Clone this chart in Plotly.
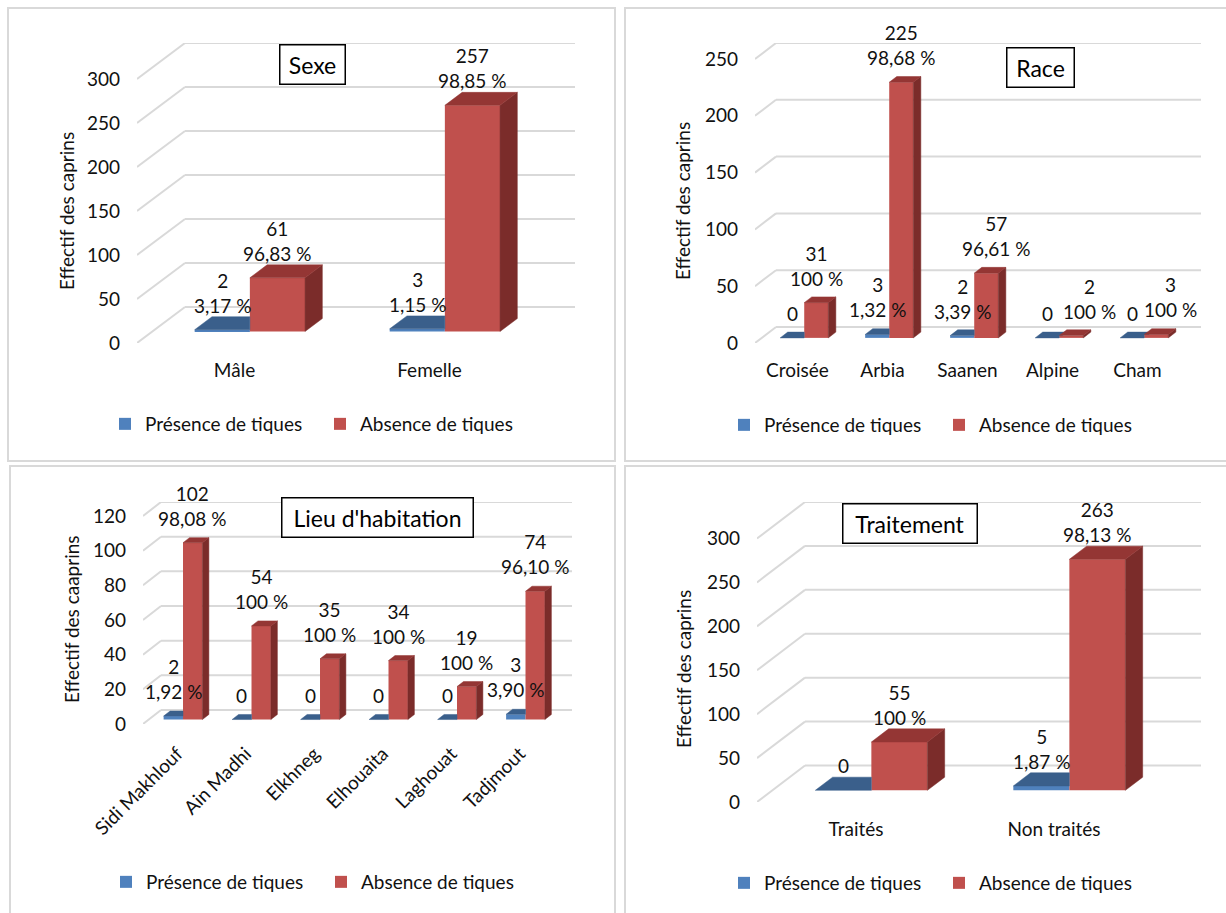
import plotly.graph_objects as go

W, H = 1226, 913
FONT = "Lato"
TXT = "#111111"
RED, RED_TOP, RED_SIDE = "#C0504D", "#943634", "#7B2C2A"
BLUE, BLUE_TOP = "#4F81BD", "#3A5F8B"
GRID = "#D9D9D9"

# ---------------- data ----------------
series_names = ["Présence de tiques", "Absence de tiques"]

sexe_categories = ["Mâle", "Femelle"]
sexe_presence = [2, 3]
sexe_absence = [61, 257]
sexe_presence_pct = ["3,17 %", "1,15 %"]
sexe_absence_pct = ["96,83 %", "98,85 %"]

race_categories = ["Croisée", "Arbia", "Saanen", "Alpine", "Cham"]
race_presence = [0, 3, 2, 0, 0]
race_absence = [31, 225, 57, 2, 3]
race_presence_pct = ["", "1,32 %", "3,39 %", "", ""]
race_absence_pct = ["100 %", "98,68 %", "96,61 %", "100 %", "100 %"]

lieu_categories = ["Sidi Makhlouf", "Ain Madhi", "Elkhneg", "Elhouaita", "Laghouat", "Tadjmout"]
lieu_presence = [2, 0, 0, 0, 0, 3]
lieu_absence = [102, 54, 35, 34, 19, 74]
lieu_presence_pct = ["1,92 %", "", "", "", "", "3,90 %"]
lieu_absence_pct = ["98,08 %", "100 %", "100 %", "100 %", "100 %", "96,10 %"]

trait_categories = ["Traités", "Non traités"]
trait_presence = [0, 5]
trait_absence = [55, 263]
trait_presence_pct = ["", "1,87 %"]
trait_absence_pct = ["100 %", "98,13 %"]

y_max = [300, 250, 120, 300]
y_step = [50, 50, 20, 50]
panel_titles = ["Sexe", "Race", "Lieu d'habitation", "Traitement"]
y_titles = ["Effectif des caprins", "Effectif des caprins", "Effectif des caaprins", "Effectif des caprins"]

# ---------------- layout geometry (pixels) ----------------
panels = [
    dict(cats=sexe_categories, pres=sexe_presence, absn=sexe_absence, ppct=sexe_presence_pct, apct=sexe_absence_pct,
         front=(137, 527), depth=(48, 36), y0=343, ytop=43, frame=(8, 8, 615, 461), box=(280, 45, 346, 85),
         ytitle=(66, 211), legend=(105, 424), angle=0, red_lbl_shift=None),
    dict(cats=race_categories, pres=race_presence, absn=race_absence, ppct=race_presence_pct, apct=race_absence_pct,
         front=(755, 1180), depth=(21, 16), y0=343, ytop=43, frame=(625, 8, 1240, 461), box=(1006, 48, 1074, 88),
         ytitle=(682, 201), legend=(724, 425), angle=0, red_lbl_shift=[0, 0, 10, 18, 14]),
    dict(cats=lieu_categories, pres=lieu_presence, absn=lieu_absence, ppct=lieu_presence_pct, apct=lieu_absence_pct,
         front=(143, 554), depth=(18, 14), y0=724, ytop=502, frame=(10, 466, 615, 930), box=(282, 497, 474, 537),
         ytitle=(71, 619), legend=(106, 882), angle=-45, red_lbl_shift=None),
    dict(cats=trait_categories, pres=trait_presence, absn=trait_absence, ppct=trait_presence_pct, apct=trait_absence_pct,
         front=(757, 1153), depth=(48, 36.5), y0=802, ytop=502, frame=(625, 466, 1240, 930), box=(842, 503, 977, 543),
         ytitle=(683, 669), legend=(724, 883), angle=0, red_lbl_shift=None),
]

BW = 0.283   # bar width (category units)
D0 = 0.32    # depth of bar front face (fraction of floor depth)
DD = 0.36    # bar depth (fraction of floor depth)

fig = go.Figure()
shapes, annotations = [], []
layout = dict(width=W, height=H, margin=dict(l=0, r=0, t=0, b=0, autoexpand=False), paper_bgcolor="white",
              plot_bgcolor="rgba(0,0,0,0)", barmode="overlay", showlegend=True, hovermode=False)


def poly_trace(polys, color, xa, ya):
    xs, ys = [], []
    for p in polys:
        for (px, py) in p:
            xs.append(px)
            ys.append(py)
        xs.append(p[0][0]); ys.append(p[0][1])
        xs.append(None); ys.append(None)
    return go.Scatter(x=xs, y=ys, mode="lines", fill="toself", fillcolor=color,
                      line=dict(color=color, width=0.5), showlegend=False, xaxis=xa, yaxis=ya,
                      hoverinfo="skip")


for k, p in enumerate(panels):
    idx = k + 1
    xa = "x" if idx == 1 else f"x{idx}"
    ya = "y" if idx == 1 else f"y{idx}"
    xkey = "xaxis" if idx == 1 else f"xaxis{idx}"
    ykey = "yaxis" if idx == 1 else f"yaxis{idx}"
    lkey = "legend" if idx == 1 else f"legend{idx}"
    n = len(p["cats"])
    fl, fr = p["front"]
    ddx, ddy = p["depth"]
    ymax, step = y_max[k], y_step[k]
    catw = (fr - fl) / n
    ppu = (p["y0"] - p["ytop"] - ddy) / ymax
    DX = ddx / catw
    DY = ddy / ppu
    xs_idx = list(range(n))

    layout[xkey] = dict(domain=[fl / W, (fr + ddx) / W], range=[-0.5, n - 0.5 + DX], anchor=ya,
                        showgrid=False, zeroline=False, showline=False, ticks="", automargin=False,
                        tickvals=xs_idx, ticktext=p["cats"], tickangle=p["angle"],
                        tickfont=dict(family=FONT, size=19, color=TXT), ticklabelstandoff=14, fixedrange=True)
    layout[ykey] = dict(domain=[1 - p["y0"] / H, 1 - p["ytop"] / H], range=[0, ymax + DY], anchor=xa,
                        showgrid=False, zeroline=False, showline=False, ticks="", automargin=False,
                        tickmode="linear", tick0=0, dtick=step,
                        tickfont=dict(family=FONT, size=19, color=TXT), ticklabelstandoff=16, fixedrange=True)

    # back wall gridlines with perspective diagonals
    v = 0
    while v <= ymax:
        shapes.append(dict(type="line", xref=xa, yref=ya, x0=-0.5, y0=v, x1=-0.5 + DX, y1=v + DY,
                           line=dict(color=GRID, width=2), layer="below"))
        shapes.append(dict(type="line", xref=xa, yref=ya, x0=-0.5 + DX, y0=v + DY, x1=n - 0.5 + DX, y1=v + DY,
                           line=dict(color=GRID, width=2), layer="below"))
        v += step

    base = D0 * DY
    off_b = -BW + D0 * DX
    off_r = D0 * DX
    ex, ey = DD * DX, DD * DY

    fig.add_trace(go.Bar(x=xs_idx, y=p["pres"], base=base, offset=off_b, width=BW, name=series_names[0],
                         marker=dict(color=BLUE, line=dict(width=0)), xaxis=xa, yaxis=ya, legend=lkey))
    fig.add_trace(go.Bar(x=xs_idx, y=p["absn"], base=base, offset=off_r, width=BW, name=series_names[1],
                         marker=dict(color=RED, line=dict(width=0)), xaxis=xa, yaxis=ya, legend=lkey))

    blue_tops, red_tops, red_sides = [], [], []
    for i in xs_idx:
        x0 = i + off_b
        x1 = x0 + BW
        t = base + p["pres"][i]
        rt = base + p["absn"][i]
        A, B, C, D = (x0, t), (x1, t), (x1 + ex, t + ey), (x0 + ex, t + ey)
        if rt >= t + ey:
            blue_tops.append([A, B, (x1, t + ey), D])
        elif rt <= t:
            blue_tops.append([A, B, C, D])
        else:
            blue_tops.append([A, B, (x1, rt), (x1 + ex * (rt - t) / ey, rt), C, D])
        r0 = i + off_r
        r1 = r0 + BW
        red_tops.append([(r0, rt), (r1, rt), (r1 + ex, rt + ey), (r0 + ex, rt + ey)])
        red_sides.append([(r1, base), (r1, rt), (r1 + ex, rt + ey), (r1 + ex, base + ey)])

        pv = p["pres"][i]
        ptxt = f"{pv}<br>{p['ppct'][i]}" if p["ppct"][i] else f"{pv}"
        annotations.append(dict(xref=xa, yref=ya, x=x0 + BW / 2, y=t, text=ptxt, showarrow=False,
                                yanchor="bottom", xanchor="center", yshift=11,
                                font=dict(family=FONT, size=19, color=TXT)))
        av = p["absn"][i]
        xsh = p["red_lbl_shift"][i] if p["red_lbl_shift"] else 0
        annotations.append(dict(xref=xa, yref=ya, x=r0 + BW / 2, y=rt, text=f"{av}<br>{p['apct'][i]}",
                                showarrow=False, yanchor="bottom", xanchor="center", yshift=11, xshift=xsh,
                                font=dict(family=FONT, size=19, color=TXT)))

    fig.add_trace(poly_trace(blue_tops, BLUE_TOP, xa, ya))
    fig.add_trace(poly_trace(red_sides, RED_SIDE, xa, ya))
    fig.add_trace(poly_trace(red_tops, RED_TOP, xa, ya))

    fx0, fy0, fx1, fy1 = p["frame"]
    shapes.append(dict(type="rect", xref="paper", yref="paper", x0=fx0 / W, x1=fx1 / W,
                       y0=1 - fy1 / H, y1=1 - fy0 / H, line=dict(color=GRID, width=2), layer="below"))

    bx0, by0, bx1, by1 = p["box"]
    annotations.append(dict(xref="paper", yref="paper", x=(bx0 + bx1) / 2 / W, y=1 - (by0 + by1) / 2 / H,
                            xanchor="center", yanchor="middle", text=panel_titles[k], showarrow=False,
                            width=bx1 - bx0 - 6, height=by1 - by0 - 6, borderpad=2,
                            bordercolor="#000000", borderwidth=1.5, bgcolor="white",
                            font=dict(family=FONT, size=23, color="#000000")))

    tx, ty = p["ytitle"]
    annotations.append(dict(xref="paper", yref="paper", x=tx / W, y=1 - ty / H, xanchor="center",
                            yanchor="middle", text=y_titles[k], textangle=-90, showarrow=False,
                            font=dict(family=FONT, size=19, color=TXT)))

    lx, ly = p["legend"]
    layout[lkey] = dict(orientation="h", x=lx / W, y=1 - ly / H, xanchor="left", yanchor="middle",
                        xref="paper", yref="paper", bgcolor="rgba(0,0,0,0)", itemwidth=30,
                        entrywidth=170, traceorder="normal",
                        font=dict(family=FONT, size=19, color=TXT))

layout["shapes"] = shapes
layout["annotations"] = annotations
fig.update_layout(**layout)
fig.write_html("out.html", config={"displayModeBar": False},
               post_script="document.body.style.margin='0';document.body.style.overflow='hidden';")
